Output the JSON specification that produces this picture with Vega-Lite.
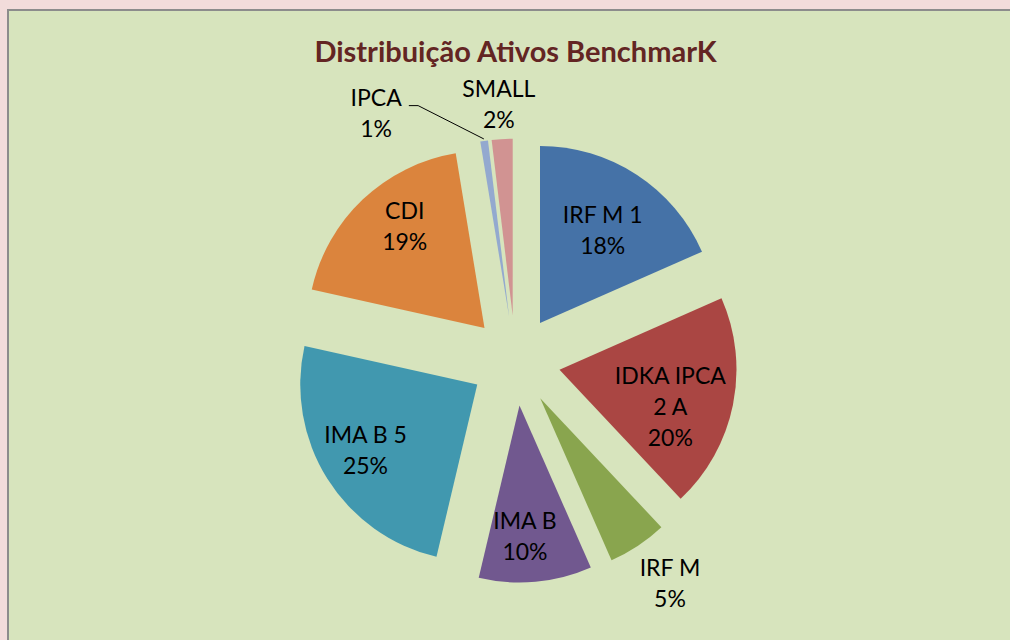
{
  "$schema": "https://vega.github.io/schema/vega-lite/v6.json",
  "width": 1010,
  "height": 640,
  "autosize": {"type": "none"},
  "padding": {"left": 8, "top": 10, "right": -8, "bottom": -10},
  "background": "#f2dcdb",
  "view": {"fill": "#d7e4bd", "stroke": "#8c8c8c", "strokeWidth": 2},
  "title": {
    "text": "Distribuição Ativos BenchmarK",
    "font": "Lato",
    "fontSize": 29,
    "fontWeight": "bold",
    "color": "#632523",
    "anchor": "middle",
    "offset": -58,
    "frame": "group",
    "dx": 2.5
  },
  "data": {
    "values": [
      {"name": "IRF M 1", "pct": 18.4},
      {"name": "IDKA IPCA 2 A", "pct": 19.6},
      {"name": "IRF M", "pct": 5.4},
      {"name": "IMA B", "pct": 10.3},
      {"name": "IMA B 5", "pct": 24.8},
      {"name": "CDI", "pct": 18.9},
      {"name": "IPCA", "pct": 0.7},
      {"name": "SMALL", "pct": 1.9}
    ]
  },
  "transform": [
    {"window": [{"op": "sum", "field": "pct", "as": "cum"}, {"op": "row_number", "as": "i"}], "frame": [null, 0]},
    {"calculate": "replace(datum.name, ' 2 A', '\\n2 A') + '\\n' + format(datum.pct / 100, '.0%')", "as": "label"}
  ],
  "layer": [
    {
      "mark": {
        "type": "arc",
        "outerRadius": 177,
        "x": {"expr": "width/2 + 2.4 + 45*sin(scale('theta', datum.cum - datum.pct/2))"},
        "y": {"expr": "height/2 + 30.7 - 45*cos(scale('theta', datum.cum - datum.pct/2))"}
      },
      "encoding": {
        "theta": {"field": "pct", "type": "quantitative", "stack": true, "scale": {"domain": [0, 100]}},
        "order": {"field": "i", "type": "quantitative"},
        "color": {
          "field": "name",
          "type": "nominal",
          "legend": null,
          "scale": {
            "domain": ["IRF M 1", "IDKA IPCA 2 A", "IRF M", "IMA B", "IMA B 5", "CDI", "IPCA", "SMALL"],
            "range": ["#4572a7", "#aa4643", "#89a54e", "#71588f", "#4198af", "#db843d", "#93a9cf", "#d19392"]
          }
        }
      }
    },
    {
      "mark": {
        "type": "text",
        "font": "Lato",
        "fontSize": 23,
        "color": "#000000",
        "lineBreak": "\n",
        "lineHeight": 31,
        "align": "center",
        "baseline": "middle",
        "x": {"expr": "width/2 + 2.4"},
        "y": {"expr": "height/2 + 30.7"},
        "dy": {"expr": "-(length(split(datum.label, '\\n')) - 1) * 15.5"},
        "radius": {"expr": "[156, 162, 272, 177, 175, 173, 283, 256][datum.i - 1]"},
        "thetaOffset": {"expr": "[0.016, 0.096, -0.02, 0.037, 0.017, 0.063, -0.373, -0.005][datum.i - 1]"}
      },
      "encoding": {
        "theta": {"field": "pct", "type": "quantitative", "stack": true},
        "order": {"field": "i", "type": "quantitative"},
        "text": {"field": "label", "type": "nominal"}
      }
    },
    {
      "transform": [{"filter": "datum.name === 'IPCA'"}],
      "mark": {"type": "rule", "color": "#000000", "strokeWidth": 1},
      "encoding": {
        "x": {"value": {"expr": "width/2 + 2.4 + 273*sin(scale('theta', datum.cum - datum.pct/2) - 0.223)"}},
        "y": {"value": {"expr": "height/2 + 30.7 - 273*cos(scale('theta', datum.cum - datum.pct/2) - 0.223)"}},
        "x2": {"value": {"expr": "width/2 + 2.4 + 224*sin(scale('theta', datum.cum - datum.pct/2))"}},
        "y2": {"value": {"expr": "height/2 + 30.7 - 224*cos(scale('theta', datum.cum - datum.pct/2))"}}
      }
    },
    {
      "transform": [{"filter": "datum.name === 'IPCA'"}],
      "mark": {"type": "rule", "color": "#000000", "strokeWidth": 1},
      "encoding": {
        "x": {"value": {"expr": "width/2 + 2.4 + 276*sin(scale('theta', datum.cum - datum.pct/2) - 0.255)"}},
        "y": {"value": {"expr": "height/2 + 30.7 - 273*cos(scale('theta', datum.cum - datum.pct/2) - 0.223)"}},
        "x2": {"value": {"expr": "width/2 + 2.4 + 273*sin(scale('theta', datum.cum - datum.pct/2) - 0.223)"}},
        "y2": {"value": {"expr": "height/2 + 30.7 - 273*cos(scale('theta', datum.cum - datum.pct/2) - 0.223)"}}
      }
    }
  ]
}
